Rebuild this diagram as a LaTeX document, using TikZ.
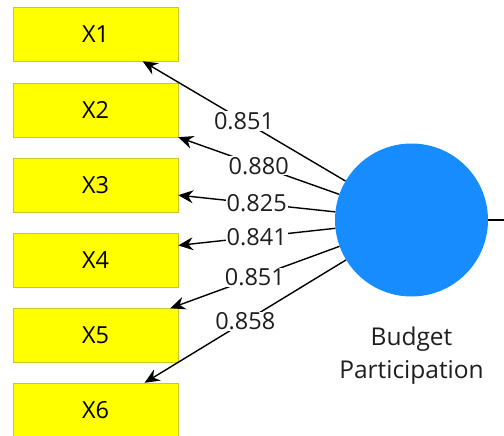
\documentclass[tikz,border=0pt]{standalone}
\usepackage{fontspec}
\setmainfont{Open Sans}
\usetikzlibrary{arrows.meta}

\definecolor{itemfill}{RGB}{255,255,0}
\definecolor{itemline}{RGB}{200,200,40}
\definecolor{lvfill}{RGB}{22,140,255}
\definecolor{loadtext}{RGB}{30,30,30}

\tikzset{
  itembox/.style={draw=itemline, fill=itemfill, minimum width=165pt,
    minimum height=54pt, inner sep=0pt, font=\fontsize{23.5}{26}\selectfont},
  loading/.style={-{Stealth[length=15pt,width=13pt,inset=5pt]}, line width=1.4pt},
  loadlabel/.style={fill=white, inner sep=1pt, text=loadtext,
    font=\fontsize{23.5}{26}\selectfont}
}

\begin{document}
\begin{tikzpicture}[x=1pt, y=-1pt]
    \useasboundingbox (0,0) rectangle (504,436);

    % indicators
    \node[itembox] (x1) at (95.5, 34) {X1};
    \node[itembox] (x2) at (95.5, 110) {X2};
    \node[itembox] (x3) at (95.5, 185) {X3};
    \node[itembox] (x4) at (95.5, 260) {X4};
    \node[itembox] (x5) at (95.5, 335.5) {X5};
    \node[itembox] (x6) at (95.5, 410) {X6};

    % latent variable
    \node[circle, fill=lvfill, minimum size=153pt, inner sep=0pt] (lv) at (411.5, 220) {};
    \node[align=center, text=loadtext, font=\fontsize{24.5}{33}\selectfont]
      (lvname) at (411.5, 356) {Budget\\Participation};
    \coordinate (rend) at (504, 220);

    \draw[line width=1.4pt] (lv) -- (rend);

    \draw[loading] (lv) -- node[loadlabel] (l1) {0.851} (x1.-30);
    \draw[loading] (lv) -- node[loadlabel] (l2) {0.880} (x2.south east);
    \draw[loading] (lv) -- node[loadlabel] (l3) {0.825} (x3.-7);
    \draw[loading] (lv) -- node[loadlabel] (l4) {0.841} (x4.10);
    \draw[loading] (lv) -- node[loadlabel] (l5) {0.851} (x5.20);
    \draw[loading] (lv) -- node[loadlabel] (l6) {0.858} (x6.29);
\end{tikzpicture}
\end{document}
